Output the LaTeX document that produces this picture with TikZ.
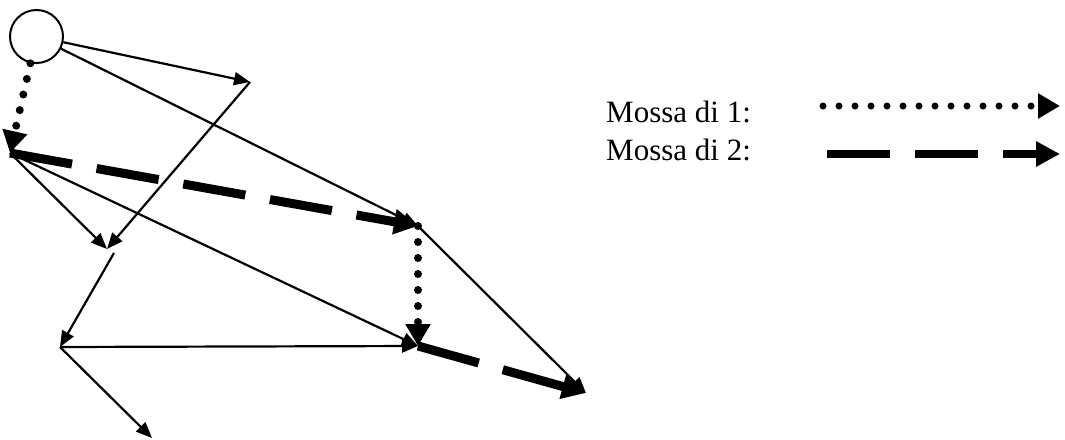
\documentclass[tikz,border=0pt]{standalone}
\usepackage{fontspec}
\setmainfont{Liberation Serif}
\usetikzlibrary{arrows.meta}

\begin{document}
\begin{tikzpicture}[x=1pt,y=-1pt,
  thin move/.style={line width=2.2pt,-{Triangle[length=16pt,width=13pt]}},
  dotmove/.style={line width=8pt,line cap=round,dash pattern=on 0pt off 16pt,
    -{Triangle[length=22pt,width=24pt]}},
  dashmove/.style={line width=9pt,dash pattern=on 63pt off 25pt,
    -{Triangle[length=24pt,width=24pt]}},
  legendtext/.style={anchor=base west,inner sep=0pt,font=\fontsize{31}{37}\selectfont}
]
\useasboundingbox (0,0) rectangle (1065,439);

% root of the game tree
\node[draw,circle,line width=2pt,minimum size=53pt,inner sep=0pt] (A) at (36.5,36.5) {};

% positions reached by the moves
\coordinate (B) at (250,82);
\coordinate (C) at (10,153);
\coordinate (D) at (418,226);
\coordinate (E) at (107,249);
\coordinate (E2) at (114,253);
\coordinate (G) at (60,347);
\coordinate (F) at (418,346);
\coordinate (H) at (586,393);
\coordinate (I) at (152,438);

% plain edges
\draw[thin move] (A) -- (B);
\draw[thin move] (A) -- (D);
\draw[thin move] (B) -- (E);
\draw[thin move] (C) -- (E);
\draw[thin move] (C) -- (F);
\draw[thin move] (E2) -- (G);
\draw[thin move] (G) -- (F);
\draw[thin move] (G) -- (I);
\draw[thin move] (D) -- (H);

% moves of player 1 (dotted)
\draw[dotmove] (A) -- (C);
\draw[dotmove] (D) -- (F);

% moves of player 2 (dashed)
\draw[dashmove] (C) -- (D);
\draw[dashmove] (F) -- (H);

% legend
\node[legendtext] (L1) at (606,122) {Mossa di 1:};
\node[legendtext] (L2) at (606,160) {Mossa di 2:};
\coordinate (L1s) at (823,106);
\coordinate (L1e) at (1060,106);
\coordinate (L2s) at (827,154);
\coordinate (L2e) at (1060,154);
\draw[dotmove,line width=7pt] (L1s) -- (L1e);
\draw[dashmove,line width=8pt] (L2s) -- (L2e);
\end{tikzpicture}
\end{document}
